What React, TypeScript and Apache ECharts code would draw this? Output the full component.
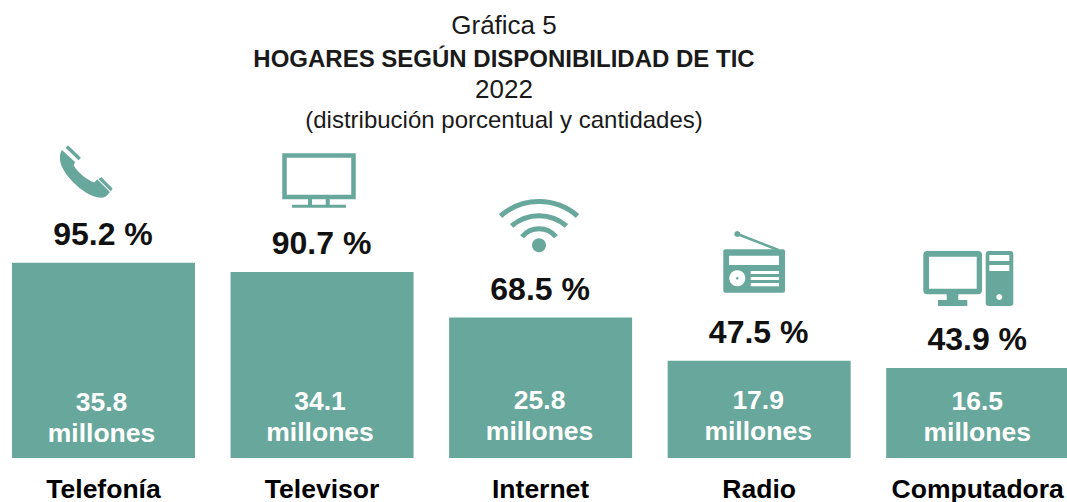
import React, { useEffect, useRef } from "react";
import * as echarts from "echarts";

const TITLE_LINES = ["Gráfica 5", "HOGARES SEGÚN DISPONIBILIDAD DE TIC", "2022", "(distribución porcentual y cantidades)"];
const CATEGORIES = ["Telefonía", "Televisor", "Internet", "Radio", "Computadora"];
const PERCENT = [95.2, 90.7, 68.5, 47.5, 43.9];
const MILLIONS = [35.8, 34.1, 25.8, 17.9, 16.5];
const MILLION_LABEL_NUDGE_X = [-2, -2, -1, -1, -0.5];
const MILLION_LABEL_NUDGE_Y = [0, -1, -2, -2, -1];

const TEAL = "#68A79C";
const FONT = '"Liberation Sans", Arial, sans-serif';

echarts.graphic.registerShape(
  "phoneIcon",
  echarts.graphic.extendPath(
    "M186 60 L226 97 L221 106 C235 130 262 150 283 158 L292 148 L330 186 C322 200 310 205 295 203 C250 195 180 130 180 85 C180 73 182 65 186 60 Z M204 46 L243 83 L236 91 L197 53 Z M304 141 L338 176 L333 184 L296 148 Z",
    {}
  )
);

const fill = { fill: TEAL };
const white = { fill: "#fff" };
const line = { stroke: TEAL, lineWidth: 4.5, fill: "none" };
const deg = (d: number) => (d * Math.PI) / 180;
const rect = (x1: number, y1: number, x2: number, y2: number, style: any, r = 0) => ({
  type: "rect",
  shape: { x: x1, y: y1, width: x2 - x1, height: y2 - y1, r },
  style,
});
const circle = (cx: number, cy: number, r: number, style: any) => ({ type: "circle", shape: { cx, cy, r }, style });
const arc = (cy: number, r: number, a: number) => ({
  type: "arc",
  shape: { cx: 539, cy, r, startAngle: deg(-180 + a), endAngle: deg(-a), clockwise: true },
  style: { stroke: TEAL, lineWidth: 5, fill: "none" },
});

const ICONS: any[] = [
  { type: "phoneIcon", x: 0, y: 130, scaleX: 1 / 3, scaleY: 1 / 3, style: fill },
  // TV
  rect(284.5, 155.5, 353.5, 197, line),
  rect(308, 199, 312, 206, fill),
  rect(325.7, 199, 329.7, 206, fill),
  rect(292, 204.7, 346, 207.7, fill),
  // Wifi
  arc(259.8, 58.3, 48.7),
  arc(257.5, 41.8, 49),
  arc(250.7, 22, 39.4),
  circle(539, 245.3, 7, fill),
  // Radio
  {
    type: "line",
    shape: { x1: 737.3, y1: 234, x2: 778.3, y2: 250 },
    style: { stroke: TEAL, lineWidth: 2.5 },
  },
  circle(737.3, 234, 3, fill),
  rect(723.3, 249.3, 785, 292.7, fill, 2),
  rect(729, 255.7, 779, 265, white),
  circle(737.3, 278.3, 8, white),
  circle(737.3, 278.3, 1.3, fill),
  rect(750.7, 271, 779, 274, white),
  rect(750.7, 277, 779, 280, white),
  rect(750.7, 283, 779, 286.3, white),
  // Computer
  rect(923.3, 251, 982, 294.3, fill, 4),
  rect(929, 256.7, 976.7, 288.7, white),
  rect(946.7, 294, 958.3, 301, fill),
  rect(938, 300, 967.3, 306, fill),
  rect(985.7, 251, 1013.3, 306, fill, 3),
  rect(989.3, 255, 1009.3, 261, white),
  rect(989.3, 265, 1009.3, 271, white),
  circle(999.3, 297, 3, white),
];

export default function App() {
  const ref = useRef<HTMLDivElement>(null);
  useEffect(() => {
    const chart = echarts.init(ref.current!, null, { renderer: "svg" });
    const titleTops = [12, 46, 76, 107];
    const titleSizes = [26, 24, 26, 24];
    chart.setOption({
      animation: false,
      backgroundColor: "#fff",
      title: TITLE_LINES.map((text, i) => ({
        text,
        left: 504,
        top: titleTops[i],
        textAlign: "center",
        padding: 0,
        textStyle: {
          fontFamily: FONT,
          fontSize: titleSizes[i],
          fontWeight: i === 1 ? "bold" : "normal",
          color: "#1a1a1a",
        },
      })),
      grid: { left: -5.8, top: 253, width: 1092.8, height: 205, outerBoundsMode: "none" },
      xAxis: {
        type: "category",
        data: CATEGORIES,
        axisLine: { show: false },
        axisTick: { show: false },
        axisLabel: { margin: 17, fontFamily: FONT, fontSize: 26.5, fontWeight: "bold", color: "#000", interval: 0 },
      },
      yAxis: { type: "value", min: 0, max: 100, show: false, splitLine: { show: false } },
      series: [
        {
          type: "bar",
          name: "Porcentaje",
          data: PERCENT,
          barWidth: 183,
          barGap: "-100%",
          itemStyle: { color: TEAL },
          label: {
            show: true,
            position: "top",
            distance: 13,
            offset: [-0.5, 0],
            formatter: "{c} %",
            fontFamily: FONT,
            fontSize: 32,
            fontWeight: "bold",
            color: "#111",
          },
        },
        {
          type: "bar",
          name: "Millones",
          data: MILLIONS.map((value, i) => ({
            value,
            label: { offset: [MILLION_LABEL_NUDGE_X[i], MILLION_LABEL_NUDGE_Y[i]] },
          })),
          barWidth: 183,
          barGap: "-100%",
          itemStyle: { color: "transparent" },
          label: {
            show: true,
            position: "insideBottom",
            distance: 10,
            formatter: "{c}\nmillones",
            fontFamily: FONT,
            fontSize: 26.5,
            lineHeight: 31,
            fontWeight: "bold",
            color: "#fff",
          },
        },
      ],
      graphic: { elements: ICONS },
    });
    return () => chart.dispose();
  }, []);
  return <div ref={ref} style={{ position: "fixed", left: 0, top: 0, width: 1067, height: 502 }} />;
}
